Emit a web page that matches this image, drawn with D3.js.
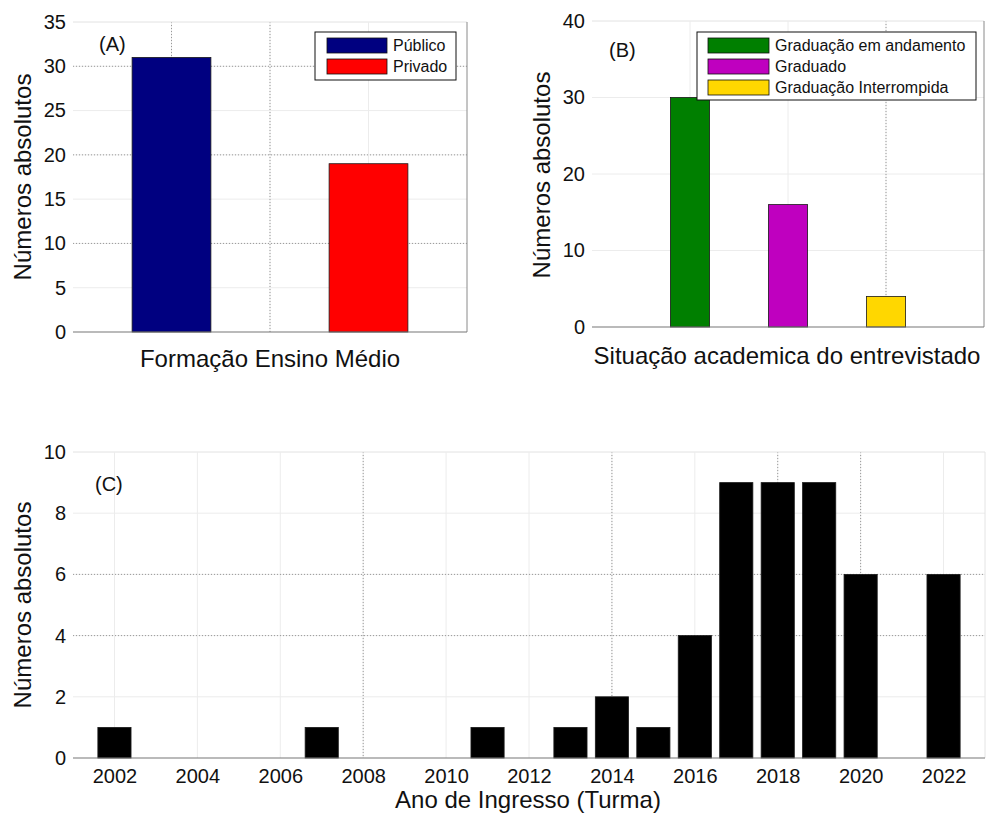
<!DOCTYPE html>
<html>
<head>
<meta charset="utf-8">
<script src="https://cdn.jsdelivr.net/npm/d3@7"></script>
<style>
  html, body { margin: 0; padding: 0; background: #fff; }
  svg text { font-family: "Liberation Sans", Arial, Helvetica, sans-serif; fill: #111; }
</style>
</head>
<body>
<svg id="chart" width="987" height="816"></svg>
<script>
// ---------- DATA ----------
// Panel A
const catsA = ["Público", "Privado"];
const valsA = [31, 19];
const colorsA = ["#000080", "#ff0000"];
const yTicksA = [0, 5, 10, 15, 20, 25, 30, 35];
const xGridA = [1, 1.5, 2];
const dottedYA = [10, 20, 30];
const dottedXA = [1, 1.5];

// Panel B
const catsB = ["Graduação em andamento", "Graduado", "Graduação Interrompida"];
const valsB = [30, 16, 4];
const colorsB = ["#007f00", "#bf00bf", "#ffd700"];
const yTicksB = [0, 10, 20, 30, 40];
const xGridB = [1, 2, 3];
const dottedXB = [3];

// Panel C
const yearsC = [2002, 2007, 2011, 2013, 2014, 2015, 2016, 2017, 2018, 2019, 2020, 2022];
const valsC = [1, 1, 1, 1, 2, 1, 4, 9, 9, 9, 6, 6];
const xTicksC = [2002, 2004, 2006, 2008, 2010, 2012, 2014, 2016, 2018, 2020, 2022];
const yTicksC = [0, 2, 4, 6, 8, 10];
const dottedYC = [4, 6];
const dottedXC = [2008, 2014, 2018, 2020];

// ---------- DRAW ----------
const svg = d3.select("#chart");
svg.append("rect").attr("width", 987).attr("height", 816).attr("fill", "#fff");

function panel(opts) {
  const g = svg.append("g");
  const x = d3.scaleLinear().domain(opts.xDomain).range([opts.left, opts.right]);
  const y = d3.scaleLinear().domain(opts.yDomain).range([opts.bottom, opts.top]);

  // faint grid
  g.selectAll(".gy").data(opts.yTicks.filter(v => v > opts.yDomain[0])).join("line")
    .attr("x1", opts.left).attr("x2", opts.right)
    .attr("y1", d => y(d)).attr("y2", d => y(d))
    .attr("stroke", "#ececec").attr("stroke-width", 1);
  g.selectAll(".gx").data(opts.xGrid).join("line")
    .attr("x1", d => x(d)).attr("x2", d => x(d))
    .attr("y1", opts.top).attr("y2", opts.bottom)
    .attr("stroke", "#ececec").attr("stroke-width", 1);
  // darker dotted grid segments
  g.selectAll(".dy").data(opts.dottedY || []).join("line")
    .attr("x1", opts.left).attr("x2", opts.right)
    .attr("y1", d => y(d)).attr("y2", d => y(d))
    .attr("stroke", "#999").attr("stroke-width", 1).attr("stroke-dasharray", "1,2");
  g.selectAll(".dx").data(opts.dottedX || []).join("line")
    .attr("x1", d => x(d)).attr("x2", d => x(d))
    .attr("y1", opts.top).attr("y2", opts.bottom)
    .attr("stroke", "#999").attr("stroke-width", 1).attr("stroke-dasharray", "1,2");

  // frame: faint top/left, grey right/bottom
  g.append("line").attr("x1", opts.left).attr("x2", opts.right).attr("y1", opts.top).attr("y2", opts.top)
    .attr("stroke", "#ececec");
  g.append("line").attr("x1", opts.right).attr("x2", opts.right).attr("y1", opts.top).attr("y2", opts.bottom)
    .attr("stroke", opts.rightColor || "#8a8a8a");

  // bars
  g.selectAll(".bar").data(opts.bars).join("rect")
    .attr("x", d => x(d.x - opts.barW / 2))
    .attr("width", d => x(d.x + opts.barW / 2) - x(d.x - opts.barW / 2))
    .attr("y", d => y(d.v))
    .attr("height", d => y(0) - y(d.v))
    .attr("fill", d => d.c)
    .attr("stroke", "#1a1a1a").attr("stroke-width", 0.8);

  // bottom axis line
  g.append("line").attr("x1", opts.left).attr("x2", opts.right).attr("y1", opts.bottom).attr("y2", opts.bottom)
    .attr("stroke", "#777").attr("stroke-width", 1.2);

  // y axis labels
  const ya = g.append("g").attr("transform", `translate(${opts.left},0)`)
    .call(d3.axisLeft(y).tickValues(opts.yTicks).tickSize(0).tickPadding(7).tickFormat(d3.format("d")));
  ya.select(".domain").remove();
  ya.selectAll("text").style("font-size", "20px").style("font-family", "Liberation Sans, Arial, sans-serif").attr("fill", "#111");

  if (opts.xTicks) {
    const xa = g.append("g").attr("transform", `translate(0,${opts.bottom})`)
      .call(d3.axisBottom(x).tickValues(opts.xTicks).tickSize(0).tickPadding(11).tickFormat(d3.format("d")));
    xa.select(".domain").remove();
    xa.selectAll("text").style("font-size", "20px").style("font-family", "Liberation Sans, Arial, sans-serif").attr("fill", "#111");
  }

  // axis titles
  g.append("text").attr("x", opts.xLabelX).attr("y", opts.xLabelY)
    .attr("text-anchor", "middle").style("font-size", "24px").text(opts.xLabel);
  g.append("text")
    .attr("transform", `translate(${opts.yLabelX},${opts.yLabelY}) rotate(-90)`)
    .attr("text-anchor", "middle").style("font-size", "24px").text("Números absolutos");

  // panel tag
  g.append("text").attr("x", opts.tagX).attr("y", opts.tagY).style("font-size", "20px").text(opts.tag);
  return {g, x, y};
}

// Panel A
panel({
  left: 73, right: 467, top: 22, bottom: 332,
  xDomain: [0.5, 2.5], yDomain: [0, 35],
  yTicks: yTicksA, xGrid: xGridA, dottedY: dottedYA, dottedX: dottedXA,
  bars: catsA.map((c, i) => ({x: i + 1, v: valsA[i], c: colorsA[i]})), barW: 0.4,
  xLabel: "Formação Ensino Médio", xLabelX: 270, xLabelY: 367,
  yLabelX: 31, yLabelY: 177,
  tag: "(A)", tagX: 99, tagY: 51
});

// Legend A
(function () {
  const lg = svg.append("g");
  lg.append("rect").attr("x", 315).attr("y", 32).attr("width", 141).attr("height", 48)
    .attr("fill", "#fff").attr("stroke", "#111").attr("stroke-width", 1);
  catsA.forEach((c, i) => {
    lg.append("rect").attr("x", 327).attr("y", 38 + i * 21).attr("width", 60).attr("height", 15)
      .attr("fill", colorsA[i]).attr("stroke", "#111").attr("stroke-width", 0.8);
    lg.append("text").attr("x", 393).attr("y", 51 + i * 21).style("font-size", "16px").text(c);
  });
})();

// Panel B
panel({
  left: 592, right: 984, top: 21, bottom: 327,
  xDomain: [0, 4], yDomain: [0, 40],
  yTicks: yTicksB, xGrid: xGridB, dottedY: [], dottedX: dottedXB,
  bars: catsB.map((c, i) => ({x: i + 1, v: valsB[i], c: colorsB[i]})), barW: 0.4,
  xLabel: "Situação academica do entrevistado", xLabelX: 787, xLabelY: 364,
  yLabelX: 550, yLabelY: 175,
  tag: "(B)", tagX: 609, tagY: 57
});

// Legend B
(function () {
  const lg = svg.append("g");
  lg.append("rect").attr("x", 697).attr("y", 32).attr("width", 279).attr("height", 68)
    .attr("fill", "#fff").attr("stroke", "#111").attr("stroke-width", 1);
  catsB.forEach((c, i) => {
    lg.append("rect").attr("x", 708).attr("y", 38 + i * 21).attr("width", 61).attr("height", 15)
      .attr("fill", colorsB[i]).attr("stroke", "#111").attr("stroke-width", 0.8);
    lg.append("text").attr("x", 775).attr("y", 51 + i * 21).style("font-size", "16px").text(c);
  });
})();

// Panel C
panel({
  left: 73, right: 985, top: 452, bottom: 758,
  xDomain: [2001, 2023], yDomain: [0, 10],
  yTicks: yTicksC, xGrid: xTicksC, dottedY: dottedYC, dottedX: dottedXC,
  xTicks: xTicksC, rightColor: "#e4e4e4",
  bars: yearsC.map((yr, i) => ({x: yr, v: valsC[i], c: "#000"})), barW: 0.8,
  xLabel: "Ano de Ingresso (Turma)", xLabelX: 528, xLabelY: 808,
  yLabelX: 31, yLabelY: 605,
  tag: "(C)", tagX: 95, tagY: 491
});
</script>
</body>
</html>
